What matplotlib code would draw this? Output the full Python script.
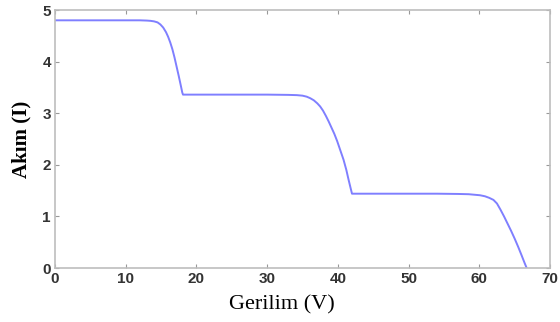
import matplotlib
matplotlib.use("Agg")
import matplotlib.pyplot as plt

# I-V curve (partially shaded module, three steps)
gerilim = [0, 5, 10, 12, 13, 13.5, 14.0, 14.5, 14.9, 15.3, 15.7, 16.0, 16.3, 16.6,
           16.9, 17.2, 17.5, 17.8, 18.0, 18.1,
           22, 26, 30, 33, 34.2, 35.0, 35.6, 36.1, 36.6, 37.1, 37.5, 37.9, 38.3,
           38.7, 39.1, 39.5, 39.9, 40.3, 40.8, 41.2, 41.5, 41.8, 42.0,
           46, 50, 54, 57, 58.5, 59.3, 60.1, 60.8, 61.4, 62.0, 62.5, 63.0,
           63.5, 64.0, 64.5, 65.0, 65.5, 66.0, 66.4, 66.7]
akim = [4.8, 4.8, 4.8, 4.8, 4.795, 4.79, 4.78, 4.76, 4.72, 4.66, 4.57, 4.48, 4.37,
        4.24, 4.08, 3.9, 3.72, 3.53, 3.4, 3.36,
        3.36, 3.36, 3.36, 3.355, 3.35, 3.34, 3.32, 3.29, 3.25, 3.19, 3.13, 3.05,
        2.95, 2.84, 2.72, 2.6, 2.46, 2.3, 2.1, 1.9, 1.72, 1.55, 1.44,
        1.44, 1.44, 1.44, 1.435, 1.43, 1.42, 1.41, 1.39, 1.36, 1.32, 1.25, 1.13,
        1.0, 0.86, 0.72, 0.57, 0.41, 0.24, 0.1, 0.0]

xticks = [0, 10, 20, 30, 40, 50, 60, 70]
yticks = [0, 1, 2, 3, 4, 5]

fig = plt.figure(figsize=(5.6, 3.22), dpi=100)
ax = fig.add_axes([55 / 560, 1 - 268 / 322, 495 / 560, 258 / 322])

ax.plot(gerilim, akim, color="#7f7fff", lw=1.4)

ax.set_xlim(0, 70)
ax.set_ylim(0, 5)
ax.set_xticks(xticks)
ax.set_yticks(yticks)
for s in ax.spines.values():
    s.set_color("#bdbdbd")
    s.set_linewidth(1.2)
ax.tick_params(direction="in", length=3, color="#999999", top=True, right=True,
               labelsize=11, labelcolor="#333333", pad=3)
for lab in ax.get_xticklabels() + ax.get_yticklabels():
    lab.set_fontfamily("Liberation Sans")
    lab.set_fontweight("bold")

fig.text(282 / 560, 1 - 305 / 322, "Gerilim (V)", ha="center", va="center",
         family="Liberation Serif", fontsize=16)
fig.text(21 / 560, 1 - 139 / 322, "Akım (I)", ha="center", va="center", rotation=90,
         family="Liberation Serif", fontweight="bold", fontsize=15)

fig.savefig("out.png", dpi=100)
